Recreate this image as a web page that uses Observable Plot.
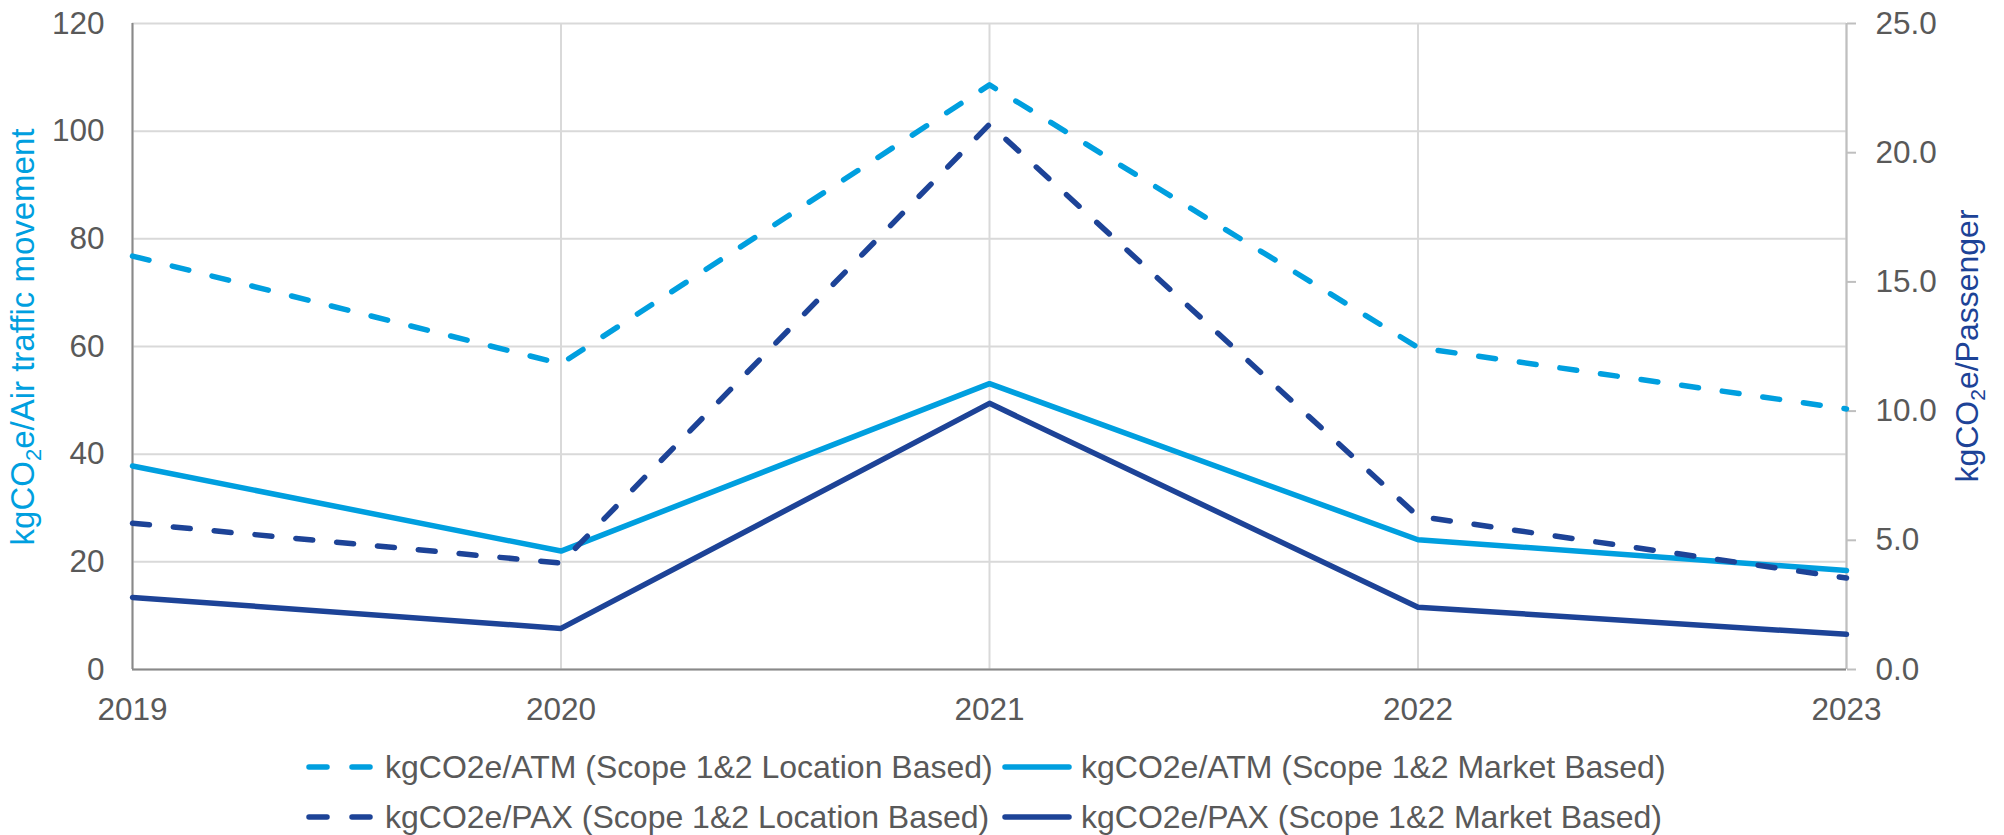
<!DOCTYPE html>
<html>
<head>
<meta charset="utf-8">
<script src="https://cdn.jsdelivr.net/npm/d3@7"></script>
<script src="https://cdn.jsdelivr.net/npm/@observablehq/plot@0.6"></script>
<style>
  html, body { margin: 0; padding: 0; background: #fff; }
  #wrap { position: relative; width: 2004px; height: 835px; font-family: "Liberation Sans", Arial, sans-serif; color: #595959; }
  #legend { position: absolute; left: 0; top: 0; width: 2004px; }
  .item { position: absolute; display: flex; align-items: center; height: 50px; font-size: 32px; white-space: nowrap; }
  .item svg { display: block; margin-right: 9px; }
</style>
</head>
<body>
<div id="wrap"><div id="chart"></div><div id="legend"></div></div>
<script>
// ---- data ----
const years = [2019, 2020, 2021, 2022, 2023];
const atmLocation = [76.8, 56.8, 108.6, 59.8, 48.4];   // kgCO2e/ATM, left axis
const atmMarket   = [37.8, 22.0, 53.1, 24.1, 18.4];    // kgCO2e/ATM, left axis
const paxLocation = [5.66, 4.12, 21.1, 5.93, 3.54];    // kgCO2e/PAX, right axis
const paxMarket   = [2.79, 1.59, 10.3, 2.41, 1.36];    // kgCO2e/PAX, right axis
const leftTicks  = [0, 20, 40, 60, 80, 100, 120];
const rightTicks = [0, 5, 10, 15, 20, 25];
const seriesNames = [
  "kgCO2e/ATM (Scope 1&2 Location Based)",
  "kgCO2e/ATM (Scope 1&2 Market Based)",
  "kgCO2e/PAX (Scope 1&2 Location Based)",
  "kgCO2e/PAX (Scope 1&2 Market Based)"
];
const leftTitle = ["kgCO", "2", "e/Air traffic movement"];
const rightTitle = ["kgCO", "2", "e/Passenger"];

// ---- styling ----
const LIGHT = "#009FDF", DARK = "#1D4397";
const DASH = "17,24";
const series = [
  {name: seriesNames[0], values: atmLocation, axis: "left",  color: LIGHT, dash: DASH},
  {name: seriesNames[1], values: atmMarket,   axis: "left",  color: LIGHT, dash: null},
  {name: seriesNames[2], values: paxLocation, axis: "right", color: DARK,  dash: DASH},
  {name: seriesNames[3], values: paxMarket,   axis: "right", color: DARK,  dash: null}
];
const leftMax = leftTicks[leftTicks.length - 1], rightMax = rightTicks[rightTicks.length - 1];
const k = leftMax / rightMax;

const W = 2004, H = 740;
const lineMarks = series.map(s => {
  const rows = years.map((yr, i) => ({year: yr, value: s.values[i]}));
  return Plot.line(rows, {
    x: "year",
    y: d => s.axis === "right" ? d.value * k : d.value,
    stroke: s.color, strokeWidth: 5.5,
    strokeLinecap: "round", strokeLinejoin: "round",
    strokeDasharray: s.dash || undefined
  });
});

const chart = Plot.plot({
  width: W, height: H,
  marginLeft: 132, marginRight: 158, marginTop: 23, marginBottom: H - 669,
  x: {domain: [years[0], years[years.length - 1]], axis: null},
  y: {domain: [0, leftMax], axis: null},
  style: {fontFamily: "'Liberation Sans', Arial, sans-serif", fontSize: "31.5px", color: "#595959", background: "#fff"},
  marks: [
    Plot.gridY(leftTicks, {stroke: "#D9D9D9", strokeOpacity: 1, strokeWidth: 2}),
    Plot.gridX(years, {stroke: "#D9D9D9", strokeOpacity: 1, strokeWidth: 2}),
    Plot.ruleX([years[years.length - 1]], {stroke: "#BFBFBF", strokeWidth: 2}),
    Plot.axisY(rightTicks.map(v => v * k), {anchor: "right", tickSize: 9, tickPadding: 20, stroke: "#BFBFBF", strokeWidth: 2, strokeOpacity: 1, tickFormat: d => (d / k).toFixed(1), label: null}),
    Plot.axisY(leftTicks, {anchor: "left", tickSize: 0, tickPadding: 28, tickFormat: d => String(d), label: null}),
    Plot.axisX(years, {anchor: "bottom", tickSize: 0, tickPadding: 28, tickFormat: d => String(d), label: null}),
    Plot.ruleX([years[0]], {stroke: "#898989", strokeWidth: 2}),
    Plot.ruleY([0], {stroke: "#898989", strokeWidth: 2}),
    ...lineMarks
  ]
});
document.getElementById("chart").appendChild(chart);

// axis titles with subscript
const svg = d3.select(chart);
function addTitle(parts, x, y, color, size) {
  const t = svg.append("text")
    .attr("transform", `translate(${x},${y}) rotate(-90)`)
    .attr("text-anchor", "middle")
    .attr("fill", color)
    .style("font-family", "'Liberation Sans', Arial, sans-serif")
    .style("font-size", size + "px");
  t.append("tspan").text(parts[0]);
  t.append("tspan").attr("dy", 7).style("font-size", Math.round(size * 0.66) + "px").text(parts[1]);
  t.append("tspan").attr("dy", -7).text(parts[2]);
}
addTitle(leftTitle, 34, 337, LIGHT, 33);
addTitle(rightTitle, 1978, 346, DARK, 32);

// legend
const legend = document.getElementById("legend");
const slots = [
  {left: 306, top: 742}, {left: 1002, top: 742},
  {left: 306, top: 792}, {left: 1002, top: 792}
];
series.forEach((s, i) => {
  const div = document.createElement("div");
  div.className = "item";
  div.style.left = slots[i].left + "px";
  div.style.top = slots[i].top + "px";
  const sw = d3.create("svg").attr("width", 70).attr("height", 12);
  sw.append("line").attr("x1", 3).attr("x2", 67).attr("y1", 6).attr("y2", 6)
    .attr("stroke", s.color).attr("stroke-width", 5.5).attr("stroke-linecap", "round")
    .attr("stroke-dasharray", s.dash ? "18,25" : null);
  div.appendChild(sw.node());
  const span = document.createElement("span");
  span.textContent = s.name;
  div.appendChild(span);
  legend.appendChild(div);
});
</script>
</body>
</html>
